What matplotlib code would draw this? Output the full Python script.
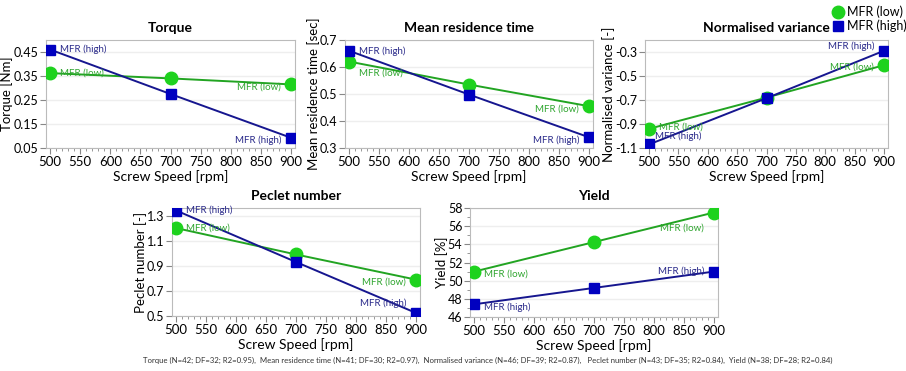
import matplotlib
matplotlib.use("Agg")
import matplotlib.pyplot as plt
from matplotlib.ticker import MultipleLocator

plt.rcParams["font.family"] = ["Lato", "DejaVu Sans"]

speed = [500, 700, 900]

titles = ["Torque", "Mean residence time", "Normalised variance", "Peclet number", "Yield"]
ylabels = ["Torque [Nm]", "Mean residence time [sec]", "Normalised variance [-]",
           "Peclet number [-]", "Yield [%]"]

torque_low = [0.362, 0.340, 0.315]
torque_high = [0.460, 0.275, 0.093]
mrt_low = [0.620, 0.535, 0.455]
mrt_high = [0.660, 0.498, 0.340]
nv_low = [-0.94, -0.68, -0.41]
nv_high = [-1.07, -0.685, -0.29]
peclet_low = [1.20, 0.99, 0.79]
peclet_high = [1.34, 0.93, 0.525]
yield_low = [51.0, 54.25, 57.5]
yield_high = [47.4, 49.2, 51.0]

lows = [torque_low, mrt_low, nv_low, peclet_low, yield_low]
highs = [torque_high, mrt_high, nv_high, peclet_high, yield_high]

ylims = [(0.05, 0.50), (0.3, 0.7), (-1.1, -0.2), (0.5, 1.36), (46, 58)]
yticks = [[0.05, 0.15, 0.25, 0.35, 0.45], [0.3, 0.4, 0.5, 0.6, 0.7],
          [-1.1, -0.9, -0.7, -0.5, -0.3], [0.5, 0.7, 0.9, 1.1, 1.3],
          [46, 48, 50, 52, 54, 56, 58]]
ytick_fmt = ["{:.2f}", "{:.1f}", "{:.1f}", "{:.1f}", "{:.0f}"]

footnote = ("Torque (N=42; DF=32; R2=0.95),  Mean residence time (N=41; DF=30; R2=0.97),  "
            "Normalised variance (N=46; DF=39; R2=0.87),   Peclet number (N=43; DF=35; R2=0.84),  "
            "Yield (N=38; DF=28; R2=0.84)")

# label offsets (points) for [low start, low end, high start, high end]
offsets = [
    [(7, 0), (-7, -2), (7, 0), (-7, -2)],
    [(7, -8), (-7, -2), (7, 0), (-7, -2)],
    [(7, 1), (-7, -1), (4, 6), (-7, 3)],
    [(7, 0), (-7, -2), (7, 0), (-7, 7)],
    [(7, -2), (-7, -11), (7, -2), (-7, 0)],
]

W, H = 906, 371
rects = [(46, 148, 249, 108), (345, 148, 248, 108), (645, 148, 243, 108),
         (172, 316, 248, 108), (470, 317, 248, 109)]

green_line = "#22a422"
green_mark = "#1ed21e"
blue_line = "#16168f"
blue_mark = "#0000c0"
green_text = "#2fa52f"
blue_text = "#2a2a8a"

fig = plt.figure(figsize=(W / 100, H / 100), dpi=100)

for i in range(5):
    l, b, w, h = rects[i]
    ax = fig.add_axes([l / W, (H - b) / H, w / W, h / H])
    ax.plot(speed, lows[i], color=green_line, lw=1.4, marker="o", ms=9,
            mfc=green_mark, mec=green_mark, zorder=3)
    ax.plot(speed, highs[i], color=blue_line, lw=1.4, marker="s", ms=7.5,
            mfc=blue_mark, mec=blue_mark, zorder=4)
    ax.set_xlim(493, 907)
    ax.set_ylim(*ylims[i])
    ax.set_yticks(yticks[i])
    ax.set_yticklabels([ytick_fmt[i].format(v) for v in yticks[i]])
    ax.set_xticks(range(500, 901, 50))
    ax.xaxis.set_minor_locator(MultipleLocator(10))
    if i == 4:
        ax.yaxis.set_minor_locator(MultipleLocator(1))
    ax.tick_params(labelsize=9.5, color="#888888", length=4, pad=2)
    ax.tick_params(axis="y", labelsize=9, pad=1.5)
    ax.tick_params(which="minor", color="#888888", length=2.5)
    for s in ax.spines.values():
        s.set_color("#bbbbbb")
    ax.grid(axis="y", color="#eeeeee", lw=1)
    ax.set_axisbelow(True)
    ax.set_title(titles[i], fontsize=10, fontweight="bold", pad=6)
    ax.set_xlabel("Screw Speed [rpm]", fontsize=10, labelpad=1)
    ax.set_ylabel(ylabels[i], fontsize=9.5, labelpad=0)

    o = offsets[i]
    ax.annotate("MFR (low)", (speed[0], lows[i][0]), xytext=o[0], textcoords="offset points",
                ha="left", va="center", fontsize=7, color=green_text, zorder=5)
    ax.annotate("MFR (low)", (speed[-1], lows[i][-1]), xytext=o[1], textcoords="offset points",
                ha="right", va="center", fontsize=7, color=green_text, zorder=5)
    ax.annotate("MFR (high)", (speed[0], highs[i][0]), xytext=o[2], textcoords="offset points",
                ha="left", va="center", fontsize=7, color=blue_text, zorder=5)
    ax.annotate("MFR (high)", (speed[-1], highs[i][-1]), xytext=o[3], textcoords="offset points",
                ha="right", va="center", fontsize=7, color=blue_text, zorder=5)

# legend
fig.lines.append(plt.Line2D([838 / W], [(H - 12) / H], marker="o", ms=9, color=green_mark,
                            transform=fig.transFigure))
fig.lines.append(plt.Line2D([838 / W], [(H - 26) / H], marker="s", ms=7.5, color=blue_mark,
                            transform=fig.transFigure))
fig.text(847 / W, (H - 12) / H, "MFR (low)", fontsize=9, va="center")
fig.text(847 / W, (H - 26) / H, "MFR (high)", fontsize=9, va="center")

fig.text(488 / W, (H - 360) / H, footnote, fontsize=5.6, ha="center", va="center", color="#333333")

fig.savefig("out.png", dpi=100)
